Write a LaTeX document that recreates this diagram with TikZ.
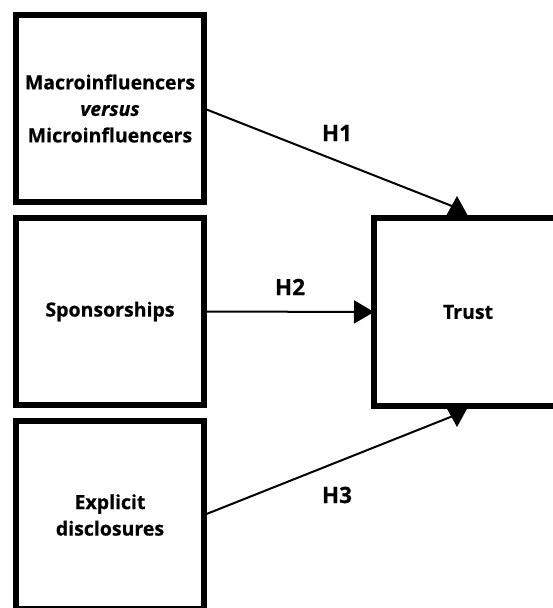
\documentclass[tikz,border=0pt]{standalone}
\usepackage{fontspec}
\setmainfont{Open Sans}[BoldFeatures={FakeBold=0.6},BoldItalicFeatures={FakeBold=0.6}]
\usetikzlibrary{arrows.meta,calc}
\begin{document}
\begin{tikzpicture}[x=1pt,y=-1pt,
  box/.style={draw,line width=6pt,minimum width=188pt,outer sep=0pt,inner sep=0pt,align=center,font=\bfseries\fontsize{19.5}{26.5}\selectfont},
  hlabel/.style={font=\bfseries\fontsize{22.5}{24}\selectfont},
  conn/.style={line width=2pt},
  head/.style={fill=black,draw=none}]
\useasboundingbox (0,0) rectangle (553,608);
\clip (0,0) rectangle (553,608);
\node[box,minimum height=187pt] (b1) at (110,108.5) {Macroinfluencers\\\textit{versus}\\Microinfluencers};
\node[box,minimum height=187pt] (b2) at (110,311.5) {Sponsorships};
\node[box,minimum height=188pt] (b3) at (110,515) {Explicit\\disclosures};
\node[box,minimum height=188pt] (t) at (468,312) {Trust};
\coordinate (e1) at ($(t.north)+(-11,-10)$);
\coordinate (e3) at ($(t.south)+(-15,10)$);
\draw[conn] (b1.east) -- (e1);
\draw[conn,-{Triangle[width=23pt,length=20pt]}] (b2.east) -- (t.west);
\draw[conn] (b3.east) -- (e3);
\fill[head] ($(t.north)+(-22,-2)$) -- ($(t.north)+(0,-2)$) -- ($(t.north)+(-11,-22)$) -- cycle;
\fill[head] ($(t.south)+(-22,1)$) -- ($(t.south)+(0,1)$) -- ($(t.south)+(-11,21)$) -- cycle;
\node[hlabel] (l1) at (337,133) {H1};
\node[hlabel] (l2) at (290,287) {H2};
\node[hlabel] (l3) at (337,495) {H3};
\end{tikzpicture}
\end{document}
